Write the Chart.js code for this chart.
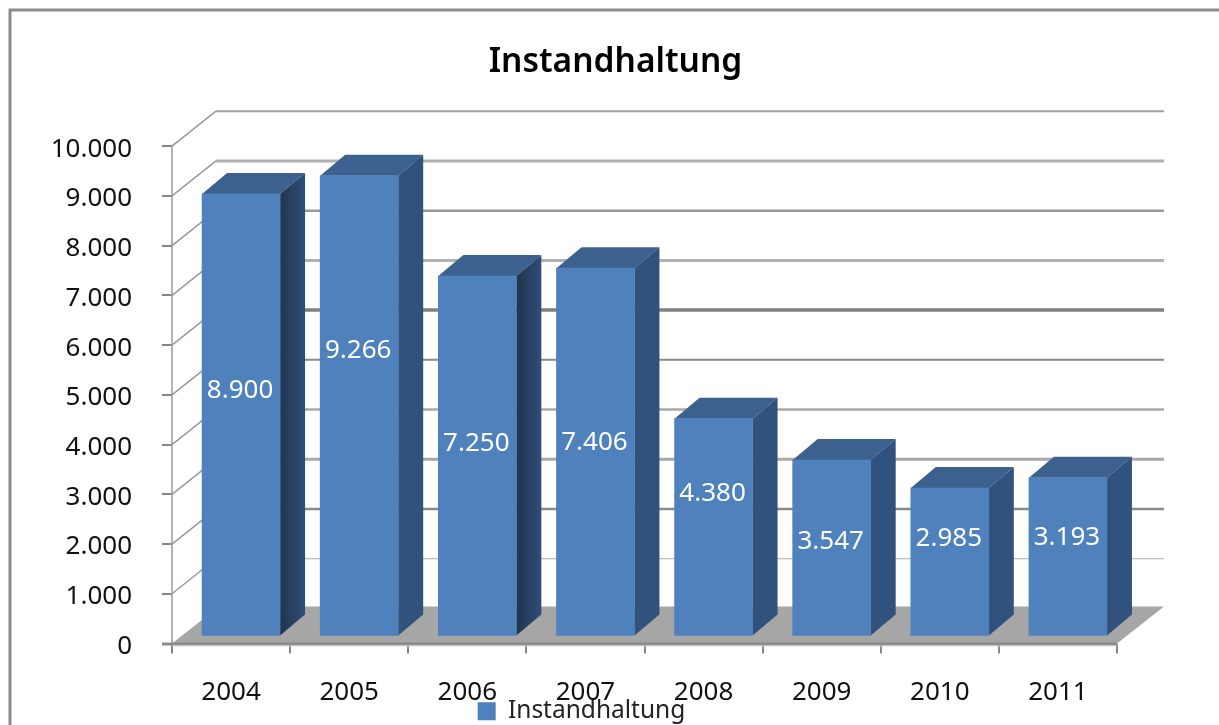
<!DOCTYPE html>
<html><head><meta charset="utf-8">
<style>html,body{margin:0;padding:0;background:#fff;overflow:hidden}#wrap{width:1219px;height:725px}</style>
<script src="https://cdn.jsdelivr.net/npm/chart.js@4"></script>
</head><body><div id="wrap"><canvas id="c" width="1219" height="725"></canvas></div>
<script>
const categories = ['2004','2005','2006','2007','2008','2009','2010','2011'];
const seriesName = 'Instandhaltung';
const values = [8900,9266,7250,7406,4380,3547,2985,3193];
const tickValues = [0,1000,2000,3000,4000,5000,6000,7000,8000,9000,10000];
// label centre (in value units above the bar foot): the reference's labels were hand placed
const labelHeights = [4940,5746,3871,3891,2883,1915,1976,1996];

const fmt = v => String(v).replace(/\B(?=(\d{3})+$)/g,'.');
const FONT = '"Noto Sans"';
const BAR_SHIFT = {x:10,y:-7};
const BAR_DEPTH = {x:25,y:-21};
const WALL = {x:44,y:-35};
const FLOOR = {x:47,y:-37};
const gradientSides = [0,2];
const gridStyles = [null,[1.2,'#aaaaaa'],[2.5,'#8a8a8a'],[3,'#a8a8a8'],[2.5,'#a8a8a8'],[2,'#8a8a8a'],[3.5,'#808080'],[3,'#b0b0b0'],[2.5,'#999999'],[3,'#b0b0b0'],[2,'#a0a0a0']];

function poly(ctx,pts,fill){ctx.beginPath();pts.forEach((p,i)=>i?ctx.lineTo(p[0],p[1]):ctx.moveTo(p[0],p[1]));ctx.closePath();ctx.fillStyle=fill;ctx.fill();}

const scene = {
  id:'scene',
  beforeDraw(chart){
    const {ctx,width,height,scales:{y}}=chart;
    ctx.save();
    ctx.fillStyle='#fff';ctx.fillRect(0,0,width,height);
    ctx.strokeStyle='#8c8c8c';ctx.lineWidth=3;
    ctx.strokeRect(10,10,width+20,height+20);
    ctx.restore();
    if(!y._shifted){y.getLabelItems().forEach(it=>{it.options.translation[1]+=3;});y._shifted=true;}
  },
  beforeDatasetsDraw(chart){
    const {ctx,chartArea:a,scales:{y}}=chart;
    ctx.save();
    tickValues.forEach((v,i)=>{
      const py=y.getPixelForValue(v);
      if(i>0){
        ctx.beginPath();ctx.moveTo(a.left+WALL.x,py+WALL.y);ctx.lineTo(a.right+FLOOR.x,py+WALL.y);
        ctx.strokeStyle=gridStyles[i][1];ctx.lineWidth=gridStyles[i][0];ctx.stroke();
        ctx.beginPath();ctx.moveTo(a.left,py);ctx.lineTo(a.left+WALL.x,py+WALL.y);
        ctx.strokeStyle='#999999';ctx.lineWidth=1.5;ctx.stroke();
      }
    });
    ctx.beginPath();ctx.moveTo(a.left,a.top);ctx.lineTo(a.left,a.bottom);ctx.strokeStyle='#9a9a9a';ctx.lineWidth=1.5;ctx.stroke();
    poly(ctx,[[a.left,a.bottom],[a.left+FLOOR.x,a.bottom+FLOOR.y],[a.right+FLOOR.x,a.bottom+FLOOR.y],[a.right,a.bottom]],'#a6a6a6');
    ctx.fillStyle='#8a8a8a';ctx.fillRect(a.left-10,a.bottom-1,a.right-a.left+10,3);
    ctx.fillStyle='#d4d4d4';ctx.fillRect(a.left,a.bottom+2,a.right-a.left,1);
    chart.getDatasetMeta(0).data.forEach((b,i)=>{
      const l=b.x-b.width/2+BAR_SHIFT.x,r=b.x+b.width/2+BAR_SHIFT.x,t=b.y+BAR_SHIFT.y,f=b.base+BAR_SHIFT.y;
      const dx=BAR_DEPTH.x,dy=BAR_DEPTH.y;
      let side='#31527d';
      if(gradientSides.includes(i)){side=ctx.createLinearGradient(r,0,r+dx,0);side.addColorStop(0,'#22344d');side.addColorStop(1,'#2f4e78');}
      poly(ctx,[[l,t],[r,t],[r+dx,t+dy],[l+dx,t+dy]],'#3c618f');
      poly(ctx,[[r,t],[r+dx,t+dy],[r+dx,f+dy],[r,f]],side);
    });
    ctx.restore();
    ctx.save();
    ctx.translate(BAR_SHIFT.x,BAR_SHIFT.y);
  },
  afterDatasetsDraw(chart){
    const ctx=chart.ctx;
    ctx.restore();
    const {scales:{y}}=chart;
    ctx.save();
    ctx.font='26px '+FONT;ctx.fillStyle='#fff';ctx.textAlign='center';ctx.textBaseline='middle';
    chart.getDatasetMeta(0).data.forEach((b,i)=>{
      ctx.fillText(fmt(values[i]),b.x+BAR_SHIFT.x-1,y.getPixelForValue(labelHeights[i])+BAR_SHIFT.y);
    });
    ctx.restore();
  },
  afterLayout(chart){
    const lg=chart.legend; lg.top=699; lg.bottom=730; lg.left+=23; lg.right+=23;
    const tt=chart.titleBlock; tt.left+=57; tt.right+=57;
    chart.scales.x.bottom=725;
  }
};

new Chart(document.getElementById('c'),{
  type:'bar',
  data:{labels:categories,datasets:[{label:seriesName,data:values,backgroundColor:'#4f81bd',borderWidth:0,barThickness:78}]},
  plugins:[scene],
  options:{
    responsive:false,animation:false,
    layout:{padding:{top:42,left:0,right:102,bottom:0}},
    plugins:{
      tooltip:{enabled:false},
      title:{display:true,text:seriesName,color:'#000',font:{family:FONT,size:33.5,weight:'600'},padding:{top:0,bottom:64}},
      legend:{position:'bottom',labels:{font:{family:FONT,size:24.5},color:'#222',boxWidth:18,boxHeight:18,padding:0}}
    },
    scales:{
      x:{offset:true,
        grid:{drawOnChartArea:false,drawTicks:true,tickLength:10,color:'#868686',lineWidth:2,offset:true},
        border:{display:false},
        ticks:{color:'#111',font:{family:FONT,size:26},padding:23,maxRotation:0,autoSkip:false},
        afterFit(s){s.height=47;}},
      y:{min:0,max:10000,
        afterBuildTicks(s){s.ticks=tickValues.map(v=>({value:v}));},
        afterFit(s){s.width=172;},
        grid:{drawOnChartArea:false,tickLength:10,color:'#868686',lineWidth:2},
        border:{display:false},
        ticks:{color:'#111',font:{family:FONT,size:26},padding:30,callback:v=>fmt(v)}}
    }
  }
});
</script></body></html>
